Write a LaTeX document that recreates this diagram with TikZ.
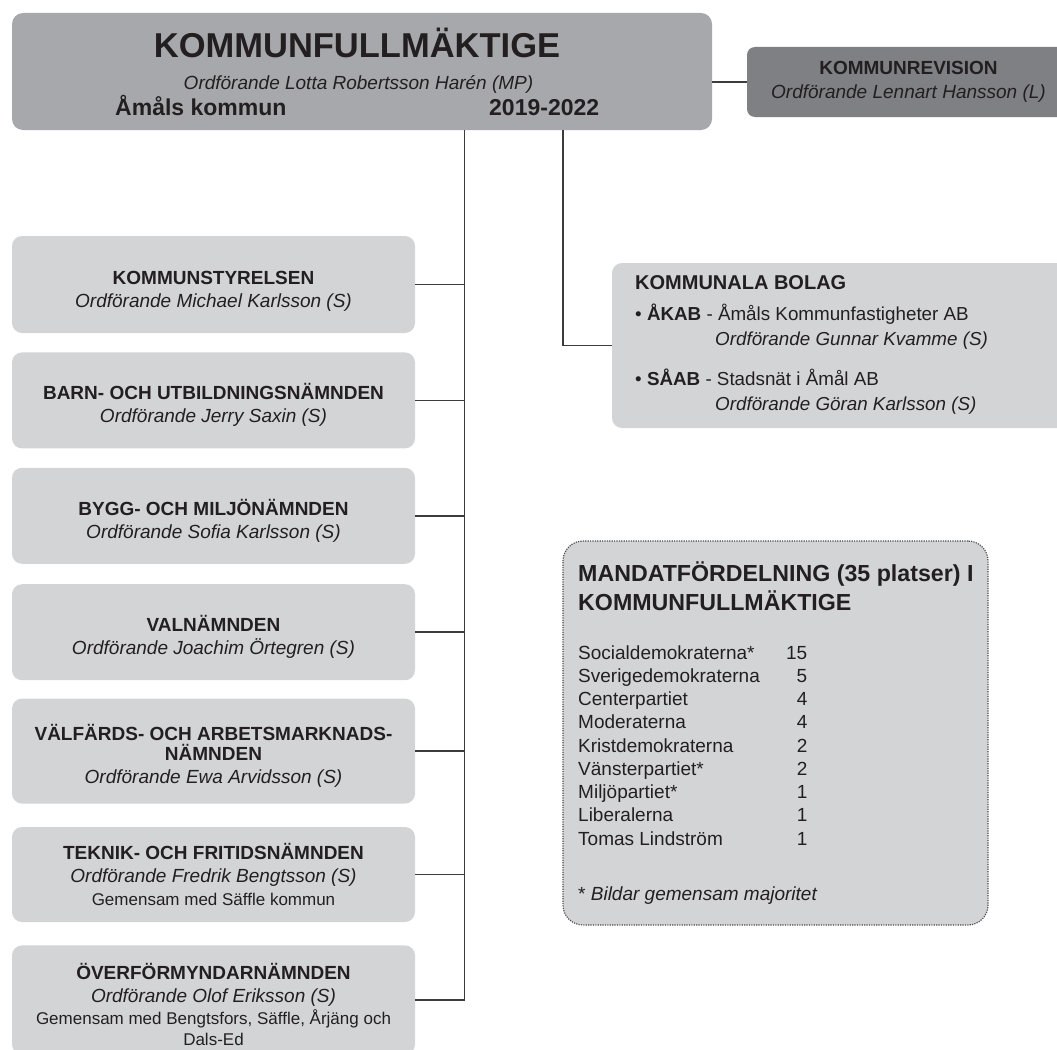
\documentclass[tikz,border=0pt]{standalone}
\usepackage{fontspec}
\setmainfont{Liberation Sans}
\usetikzlibrary{positioning}
\definecolor{topgray}{HTML}{A7A8AB}
\definecolor{revgray}{HTML}{7F8083}
\definecolor{boxgray}{HTML}{D3D4D6}
\definecolor{linegray}{HTML}{3C3C3C}
\definecolor{textdark}{HTML}{231F20}
\newcommand{\topstrut}{\rule{0pt}{26pt}}

\begin{document}
\begin{tikzpicture}[x=1pt, y=-1pt, text=textdark]
        \tikzstyle{topbox} = [rectangle, rounded corners=11pt, fill=topgray, minimum width=700pt, minimum height=117pt]
        \tikzstyle{revbox} = [rectangle, rounded corners=8pt, fill=revgray, minimum width=323pt, minimum height=70pt, align=center, font=\fontsize{19}{24}\selectfont]
        \tikzstyle{leftbox} = [rectangle, rounded corners=10pt, fill=boxgray, minimum width=403pt, minimum height=96pt, align=center, font=\fontsize{19}{23}\selectfont]
        \tikzstyle{bolagbox} = [rectangle, rounded corners=10pt, fill=boxgray, minimum width=460pt, minimum height=165pt]
        \tikzstyle{mandatbox} = [rectangle, rounded corners=20pt, fill=boxgray, draw=black!70, line width=1.2pt, dash pattern=on 1.2pt off 1.2pt, minimum width=425pt, minimum height=384pt]
        \tikzstyle{plaintext} = [inner sep=0pt, font=\fontsize{18.8}{23}\selectfont]
        \tikzstyle{connector} = [draw=linegray, line width=1.5pt]

        \useasboundingbox (0,0) rectangle (1057,1049);
        \clip (0,0) rectangle (1057,1049);

        \node (kf) [topbox] at (362,71.5) {};
        \node (kftitle) [plaintext, anchor=base, font=\fontsize{34.5}{40}\selectfont\bfseries] at (357,58) {KOMMUNFULLMÄKTIGE};
        \node (kfchair) [plaintext, anchor=base, font=\fontsize{19}{23}\selectfont\itshape] at (358.5,89) {Ordförande Lotta Robertsson Harén (MP)};
        \node (kfplace) [plaintext, anchor=base west, font=\fontsize{23}{27}\selectfont\bfseries] at (115,115) {Åmåls kommun};
        \node (kfyears) [plaintext, anchor=base west, font=\fontsize{23}{27}\selectfont\bfseries] at (489,115) {2019-2022};

        \node (kr) [revbox] at (908.5,82) {\textbf{KOMMUNREVISION}\\\textit{Ordförande Lennart Hansson (L)}};
        \draw[connector] (kf.east |- kr.west) -- (kr.west);

        \node (ks) [leftbox, minimum height=97pt] at (213.5,284.5) {\topstrut\textbf{KOMMUNSTYRELSEN}\\\textit{Ordförande Michael Karlsson (S)}};
        \node (bun) [leftbox, below=19pt of ks] {\topstrut\textbf{BARN- OCH UTBILDNINGSNÄMNDEN}\\\textit{Ordförande Jerry Saxin (S)}};
        \node (bmn) [leftbox, below=19pt of bun] {\topstrut\textbf{BYGG- OCH MILJÖNÄMNDEN}\\\textit{Ordförande Sofia Karlsson (S)}};
        \node (vn) [leftbox, below=20pt of bmn] {\topstrut\textbf{VALNÄMNDEN}\\\textit{Ordförande Joachim Örtegren (S)}};
        \node (vam) [leftbox, minimum height=105pt, below=18pt of vn] {\topstrut\textbf{VÄLFÄRDS- OCH ARBETSMARKNADS-}\\[-3pt]\textbf{NÄMNDEN}\\\textit{Ordförande Ewa Arvidsson (S)}};
        \node (tfn) [leftbox, minimum height=95pt, below=23pt of vam] {\rule{0pt}{16pt}\textbf{TEKNIK- OCH FRITIDSNÄMNDEN}\\\textit{Ordförande Fredrik Bengtsson (S)}\\{\fontsize{17}{22}\selectfont Gemensam med Säffle kommun}};
        \node (ofn) [leftbox, minimum height=109pt, below=23pt of tfn, font=\fontsize{19}{22.3}\selectfont] {\topstrut\textbf{ÖVERFÖRMYNDARNÄMNDEN}\\\textit{Ordförande Olof Eriksson (S)}\\{\fontsize{17}{22}\selectfont Gemensam med Bengtsfors, Säffle, Årjäng och}\\[-1pt]{\fontsize{17}{22}\selectfont Dals-Ed}};

        \coordinate (trunk) at (464.5,130);
        \draw[connector] (trunk) -- (trunk |- ofn.east);
        \draw[connector] (ks.east) -- (ks.east -| trunk);
        \draw[connector] (bun.east) -- (bun.east -| trunk);
        \draw[connector] (bmn.east) -- (bmn.east -| trunk);
        \draw[connector] (vn.east) -- (vn.east -| trunk);
        \draw[connector] (vam.east) -- (vam.east -| trunk);
        \draw[connector] (tfn.east) -- (tfn.east -| trunk);
        \draw[connector] (ofn.east) -- (ofn.east -| trunk);

        \node (kb) [bolagbox] at (842,345.5) {};
        \coordinate (bolagtap) at (563,130);
        \draw[connector] (bolagtap) |- (kb.west);
        \node (kbtitle) [plaintext, anchor=base west, font=\fontsize{20}{23}\selectfont\bfseries] at (635,289.5) {KOMMUNALA BOLAG};
        \node (kbakab) [plaintext, anchor=base west] at (635,320) {• \textbf{ÅKAB} - Åmåls Kommunfastigheter AB};
        \node (kbakabchair) [plaintext, anchor=base west, font=\fontsize{18.8}{23}\selectfont\itshape] at (715,345) {Ordförande Gunnar Kvamme (S)};
        \node (kbsaab) [plaintext, anchor=base west] at (635,385) {• \textbf{SÅAB} - Stadsnät i Åmål AB};
        \node (kbsaabchair) [plaintext, anchor=base west, font=\fontsize{18.8}{23}\selectfont\itshape] at (715,410) {Ordförande Göran Karlsson (S)};

        \node (mandat) [mandatbox] at (775.5,733) {};
        \node (mandathead) [plaintext, anchor=base west, font=\fontsize{23.2}{29}\selectfont\bfseries] at (578,581.5) {MANDATFÖRDELNING (35 platser) I};
        \node (mandatheadb) [plaintext, anchor=base west, font=\fontsize{23.2}{29}\selectfont\bfseries] at (578,610.5) {KOMMUNFULLMÄKTIGE};
        \node (seats) [plaintext, anchor=base west, font=\fontsize{19}{23.25}\selectfont] at (578,659) {\begin{tabular}[t]{@{}p{208pt}@{}r@{}}
            Socialdemokraterna* & 15\\
            Sverigedemokraterna & 5\\
            Centerpartiet & 4\\
            Moderaterna & 4\\
            Kristdemokraterna & 2\\
            Vänsterpartiet* & 2\\
            Miljöpartiet* & 1\\
            Liberalerna & 1\\
            Tomas Lindström & 1
        \end{tabular}};
        \node (mandatnote) [plaintext, anchor=base west, font=\fontsize{19}{23}\selectfont] at (578,900) {* \textit{Bildar gemensam majoritet}};

    \end{tikzpicture}
\end{document}
